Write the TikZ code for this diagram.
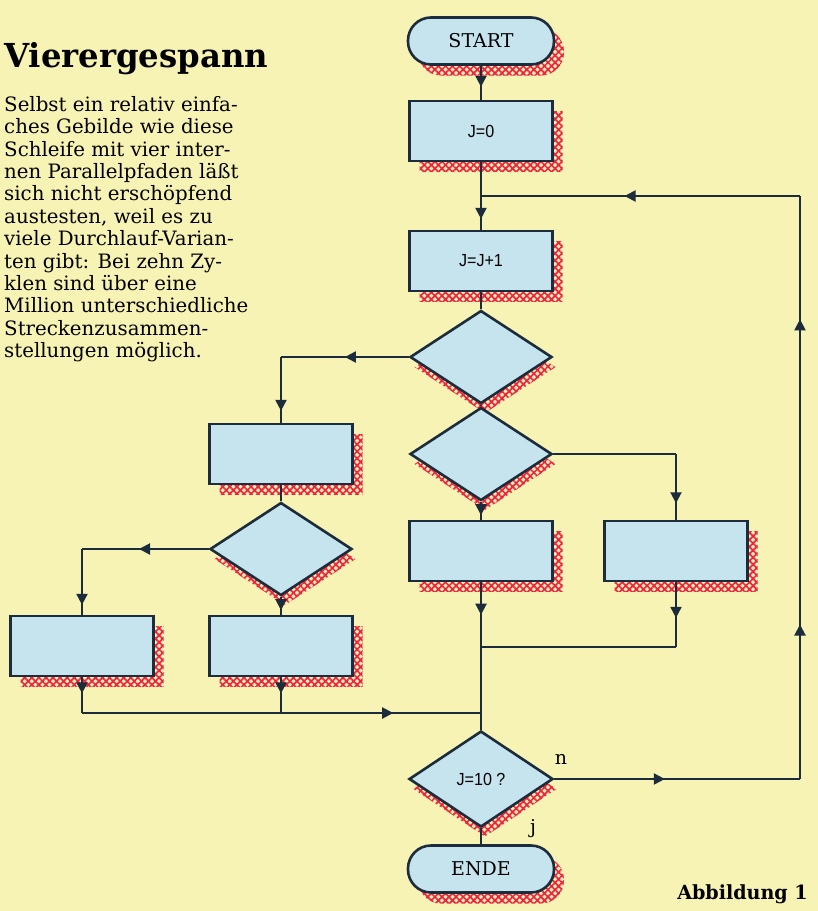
\documentclass[tikz,border=0pt]{standalone}
\usepackage{fontspec}
\setmainfont{DejaVu Serif}
\newfontfamily\bodyfont{DejaVu Serif}
\newfontfamily\titlefont[FakeStretch=0.98]{DejaVu Serif}
\newfontfamily\labfont[FakeStretch=0.92]{Liberation Sans}
\usetikzlibrary{shapes.geometric,arrows.meta,decorations.markings,shadows,patterns.meta}
\definecolor{bgcol}{HTML}{F7F3B4}
\definecolor{boxcol}{HTML}{C6E4EE}
\definecolor{lncol}{HTML}{1C2C3C}
\definecolor{shred}{HTML}{EE2440}
\tikzdeclarepattern{
  name=redmesh,
  type=colored,
  bottom left={(-.1pt,-.1pt)},
  top right={(5.1pt,5.1pt)},
  tile size={(5pt,5pt)},
  tile transformation={rotate=45},
  code={\tikzset{x=1pt,y=1pt}\draw[shred,line width=1.7pt] (0,2.5) -- (5,2.5) (2.5,0) -- (2.5,5);}
}
\tikzset{
  shad/.style 2 args={drop shadow={shadow xshift=#1, shadow yshift=-#2, opacity=1, pattern=redmesh}},
  box/.style={rectangle, draw=lncol, fill=boxcol, line width=2.6pt, minimum width=143pt, minimum height=60pt, inner sep=0pt, font=\labfont\fontsize{17.5}{17.5}\selectfont, shad={10pt}{10pt}},
  dia/.style={diamond, aspect=1.53, draw=lncol, fill=boxcol, line width=2.6pt, minimum width=142pt, minimum height=93pt, inner sep=0pt, font=\labfont\fontsize{17.5}{17.5}\selectfont, shad={4pt}{10pt}},
  term/.style={rectangle, rounded corners=23pt, draw=lncol, fill=boxcol, line width=2.6pt, minimum width=146pt, minimum height=47pt, inner sep=0pt, font=\fontsize{19}{19}\selectfont, shad={10pt}{11pt}},
  conn/.style={draw=lncol, line width=2pt},
  arr/.style={postaction={decorate}, decoration={markings, mark=at position #1 with {\arrow{Triangle[width=11pt,length=11pt]}}}},
}
\begin{document}
\begin{tikzpicture}[x=1pt,y=-1pt]
\useasboundingbox (0,0) rectangle (818,911);
\fill[bgcol] (0,0) rectangle (818,911);
% text
\node[anchor=base west, inner sep=0pt] (title) at (4,67) {\titlefont\bfseries\fontsize{33}{33}\selectfont Vierergespann};
\node[anchor=north west, inner sep=0pt, align=left, font=\bodyfont\fontsize{19.8}{22.4}\selectfont] (body) at (4,96) {Selbst ein relativ einfa-\\ches Gebilde wie diese\\Schleife mit vier inter-\\nen Parallelpfaden läßt\\sich nicht erschöpfend\\austesten, weil es zu\\viele Durchlauf-Varian-\\ten gibt: Bei zehn Zy-\\klen sind über eine\\Million unterschiedliche\\Streckenzusammen-\\stellungen möglich.};
\node[anchor=base east, inner sep=0pt] (abb) at (808,899) {\titlefont\bfseries\fontsize{19.5}{19.5}\selectfont Abbildung 1};
% nodes
\node[term] (start) at (481,41) {START};
\node[box] (j0) at (481,131) {J=0};
\node[box] (jj) at (481,261) {J=J+1};
\node[dia] (d1) at (481,357) {};
\node[box] (l1) at (281,454) {};
\node[dia] (dl) at (281,549) {};
\node[box] (ll) at (82,646) {};
\node[box] (lr) at (281,646) {};
\node[dia] (d2) at (481,454) {};
\node[box] (m) at (481,551) {};
\node[box] (r) at (676,551) {};
\node[dia, minimum width=144pt, minimum height=96pt] (dj) at (481,779) {J=10 ?};
\node[term] (ende) at (481,869) {ENDE};
\node[font=\fontsize{19}{19}\selectfont] (nlab) at (561,759) {n};
\node[font=\fontsize{19}{19}\selectfont] (jlab) at (533,829) {j};
% helper coordinates
\coordinate (cl1) at (281,357);
\coordinate (cll) at (82,549);
\coordinate (cbl) at (82,713);
\coordinate (cbr) at (281,713);
\coordinate (cbm) at (481,713);
\coordinate (cr) at (676,454);
\coordinate (crb) at (676,647);
\coordinate (crm) at (481,647);
\coordinate (top) at (481,196);
\coordinate (loopbr) at (800,779);
\coordinate (loopmid) at (800,470);
\coordinate (looptr) at (800,196);
% connectors
\draw[conn, arr=0.62] (start) -- (j0);
\draw[conn, arr=0.84] (j0) -- (jj);
\draw[conn] (jj) -- (d1);
\draw[conn, arr=0.5] (d1.west) -- (cl1);
\draw[conn, arr=0.82] (cl1) -- (l1.north);
\draw[conn] (d1.south) -- (d2.north);
\draw[conn] (l1) -- (dl);
\draw[conn, arr=0.55] (dl.west) -- (cll);
\draw[conn, arr=0.85] (cll) -- (ll.north);
\draw[conn, arr=0.75] (dl.south) -- (lr.north);
\draw[conn, arr=0.45] (ll.south) -- (cbl);
\draw[conn, arr=0.45] (lr.south) -- (cbr);
\draw[conn, arr=0.78] (cbl) -- (cbm);
\draw[conn, arr=0.75] (d2.south) -- (m.north);
\draw[conn] (d2.east) -- (cr);
\draw[conn, arr=0.75] (cr) -- (r.north);
\draw[conn, arr=0.22] (m.south) -- (dj.north);
\draw[conn, arr=0.55] (r.south) -- (crb);
\draw[conn] (crb) -- (crm);
\draw[conn] (dj.south) -- (ende.north);
\draw[conn, arr=0.45] (dj.east) -- (loopbr);
\draw[conn, arr=0.5] (loopbr) -- (loopmid);
\draw[conn, arr=0.55] (loopmid) -- (looptr);
\draw[conn, arr=0.55] (looptr) -- (top);
\end{tikzpicture}
\end{document}
